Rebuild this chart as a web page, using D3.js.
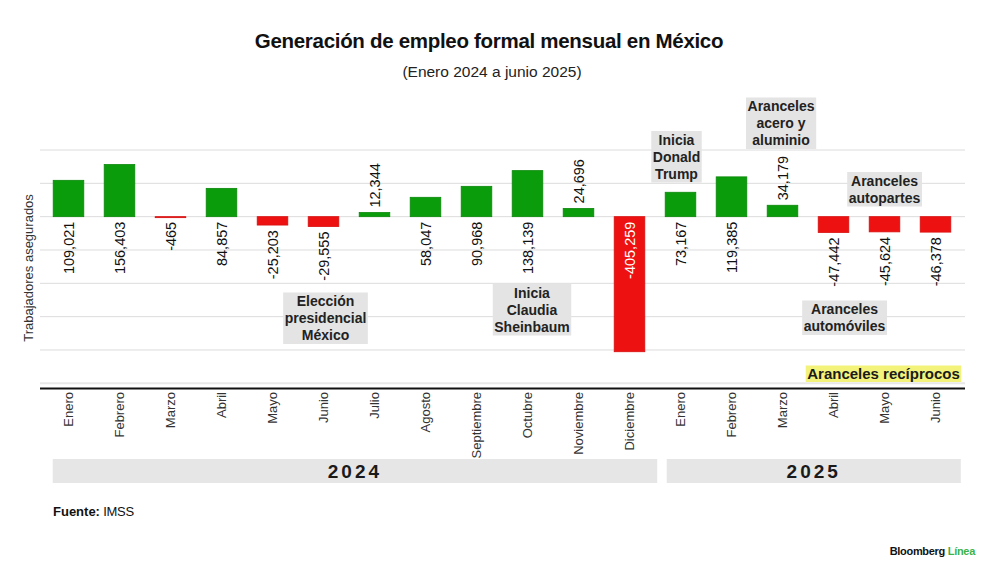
<!DOCTYPE html>
<html>
<head>
<meta charset="utf-8">
<script src="https://cdn.jsdelivr.net/npm/d3@7"></script>
<style>
  body { margin: 0; background: #fff; }
  svg { display: block; font-family: "Liberation Sans", Arial, sans-serif; }
</style>
</head>
<body>
<div id="chart"></div>
<script>
// datos: empleo formal mensual (IMSS)
const months = ["Enero", "Febrero", "Marzo", "Abril", "Mayo", "Junio", "Julio", "Agosto",
  "Septiembre", "Octubre", "Noviembre", "Diciembre",
  "Enero", "Febrero", "Marzo", "Abril", "Mayo", "Junio"];
const years = [2024, 2024, 2024, 2024, 2024, 2024, 2024, 2024, 2024, 2024, 2024, 2024,
  2025, 2025, 2025, 2025, 2025, 2025];
const values = [109021, 156403, -465, 84857, -25203, -29555, 12344, 58047, 90968, 138139,
  24696, -405259, 73167, 119385, 34179, -47442, -45624, -46378];
const yearLabels = ["2024", "2025"];
const yTicks = [-400000, -300000, -200000, -100000, 0, 100000, 200000];

// anotaciones (texto + mes de referencia)
const notes = [
  { lines: ["Elección", "presidencial", "México"], at: 5, dx: 2, top: 306 },
  { lines: ["Inicia", "Claudia", "Sheinbaum"], at: 9, dx: 4.5, top: 297.5 },
  { lines: ["Inicia", "Donald", "Trump"], at: 12, dx: -4, top: 144.5 },
  { lines: ["Aranceles", "acero y", "aluminio"], at: 14, dx: -1.5, top: 111 },
  { lines: ["Aranceles", "autopartes"], at: 16, dx: 0, top: 185.5 },
  { lines: ["Aranceles", "automóviles"], at: 15, dx: 11, top: 314 }
];

const width = 1000, height = 576;
const svg = d3.select("#chart").append("svg")
  .attr("width", width).attr("height", height);

const idx = d3.range(values.length);
const x = d3.scaleBand().domain(idx).range([43, 961]).paddingInner(0.4).paddingOuter(0.2);
const y = d3.scaleLinear().domain([-500000, 200000]).range([383.3, 150]);

// título
svg.append("text")
  .attr("x", 489).attr("y", 48)
  .attr("text-anchor", "middle")
  .attr("font-size", 20.5).attr("font-weight", "bold")
  .attr("letter-spacing", -0.3)
  .attr("fill", "#111")
  .text("Generación de empleo formal mensual en México");

svg.append("text")
  .attr("x", 492).attr("y", 77)
  .attr("text-anchor", "middle")
  .attr("font-size", 15.5)
  .attr("fill", "#222")
  .text("(Enero 2024 a junio 2025)");

// cuadrícula
svg.append("g")
  .selectAll("line")
  .data(yTicks)
  .join("line")
  .attr("x1", 40).attr("x2", 965)
  .attr("y1", d => y(d)).attr("y2", d => y(d))
  .attr("stroke", "#dcdcdc").attr("stroke-width", 1);

svg.append("line")
  .attr("x1", 40).attr("x2", 965)
  .attr("y1", y(-500000)).attr("y2", y(-500000))
  .attr("stroke", "#e8e8e8").attr("stroke-width", 2);

svg.append("line")
  .attr("x1", 40).attr("x2", 965)
  .attr("y1", 388.5).attr("y2", 388.5)
  .attr("stroke", "#111").attr("stroke-width", 2);

// etiqueta eje y
svg.append("text")
  .attr("transform", "translate(33,268) rotate(-90)")
  .attr("text-anchor", "middle")
  .attr("font-size", 13).attr("fill", "#333")
  .text("Trabajadores asegurados");

// barras
svg.append("g")
  .selectAll("rect")
  .data(idx)
  .join("rect")
  .attr("x", i => x(i))
  .attr("width", x.bandwidth())
  .attr("y", i => y(Math.max(0, values[i])))
  .attr("height", i => Math.max(1, Math.abs(y(values[i]) - y(0))))
  .attr("fill", i => values[i] >= 0 ? "#0a9c0a" : "#ee1111")
  .attr("stroke", i => values[i] >= 0 ? "#0b880b" : "#d81010")
  .attr("stroke-width", 0.8);

// etiquetas de valores (guion normal como signo)
const fmt = v => d3.format(",")(v).replace("\u2212", "-");
svg.append("g")
  .selectAll("text")
  .data(idx)
  .join("text")
  .attr("transform", i => {
    const v = values[i];
    const cx = x(i) + x.bandwidth() / 2;
    if (v > 0 && v < 40000) return `translate(${cx},${y(v) - 5}) rotate(-90)`;
    if (v < -300000) return `translate(${cx},${y(0) + 5}) rotate(-90)`;
    return `translate(${cx},${y(Math.min(0, v)) + 5}) rotate(-90)`;
  })
  .attr("text-anchor", i => values[i] > 0 && values[i] < 40000 ? "start" : "end")
  .attr("dy", "0.35em")
  .attr("font-size", 14.5)
  .attr("fill", i => values[i] < -300000 ? "#fff" : "#111")
  .text(i => fmt(values[i]));

// meses
svg.append("g")
  .selectAll("text")
  .data(idx)
  .join("text")
  .attr("transform", i => `translate(${x(i) + x.bandwidth() / 2},392) rotate(-90)`)
  .attr("text-anchor", "end")
  .attr("dy", "0.35em")
  .attr("font-size", 13).attr("fill", "#333")
  .text(i => months[i]);

// bandas de años
const yearBands = yearLabels.map(yr => {
  const ids = idx.filter(i => String(years[i]) === yr);
  const first = ids[0], last = ids[ids.length - 1];
  const x0 = first === 0 ? x(first) - 0.5 : x(first) + 1.5;
  const x1 = last === values.length - 1 ? x(last) + x.bandwidth() + 10 : x(last + 1) - 8;
  return { yr, x0, x1 };
});
const band = svg.append("g").selectAll("g").data(yearBands).join("g");
band.append("rect")
  .attr("x", d => d.x0)
  .attr("width", d => d.x1 - d.x0)
  .attr("y", 459).attr("height", 24)
  .attr("fill", "#e6e6e6");
band.append("text")
  .attr("x", d => (d.x0 + d.x1) / 2)
  .attr("y", 478)
  .attr("text-anchor", "middle")
  .attr("font-size", 19).attr("font-weight", "bold")
  .attr("letter-spacing", 3)
  .attr("fill", "#1a1a1a")
  .text(d => d.yr);

// anotaciones
const lh = 17;
notes.forEach(n => {
  const cx = x(n.at) + x.bandwidth() / 2 + n.dx;
  const g = svg.append("g");
  const rect = g.append("rect").attr("fill", "#e4e4e4");
  const t = g.append("text")
    .attr("text-anchor", "middle")
    .attr("font-size", 14).attr("font-weight", "bold")
    .attr("fill", "#222");
  n.lines.forEach((l, k) => {
    t.append("tspan").attr("x", cx).attr("y", n.top + k * lh).text(l);
  });
  const b = t.node().getBBox();
  rect.attr("x", b.x - 1.5).attr("y", b.y - 0.5)
    .attr("width", b.width + 3).attr("height", b.height + 1.5);
});

// aranceles recíprocos (resaltado amarillo)
const rg = svg.append("g");
const rr = rg.append("rect").attr("fill", "#f3f37c");
const rt = rg.append("text")
  .attr("x", x(17) + x.bandwidth() + 9)
  .attr("y", 379)
  .attr("text-anchor", "end")
  .attr("font-size", 15).attr("font-weight", "bold")
  .attr("fill", "#1a1a1a")
  .text("Aranceles recíprocos");
const rb = rt.node().getBBox();
rr.attr("x", rb.x - 1.5).attr("y", rb.y + 0.5)
  .attr("width", rb.width + 3).attr("height", rb.height - 0.5);

// fuente
const src = svg.append("text")
  .attr("x", 53).attr("y", 516)
  .attr("font-size", 13).attr("fill", "#111");
src.append("tspan").attr("font-weight", "bold").text("Fuente:");
src.append("tspan").attr("letter-spacing", -0.3).text(" IMSS");

const brand = svg.append("text")
  .attr("x", 975).attr("y", 555)
  .attr("text-anchor", "end")
  .attr("font-size", 11).attr("font-weight", "bold")
  .attr("letter-spacing", -0.3)
  .attr("fill", "#111");
brand.append("tspan").text("Bloomberg ");
brand.append("tspan").attr("fill", "#3cb34a").text("Línea");
</script>
</body>
</html>
